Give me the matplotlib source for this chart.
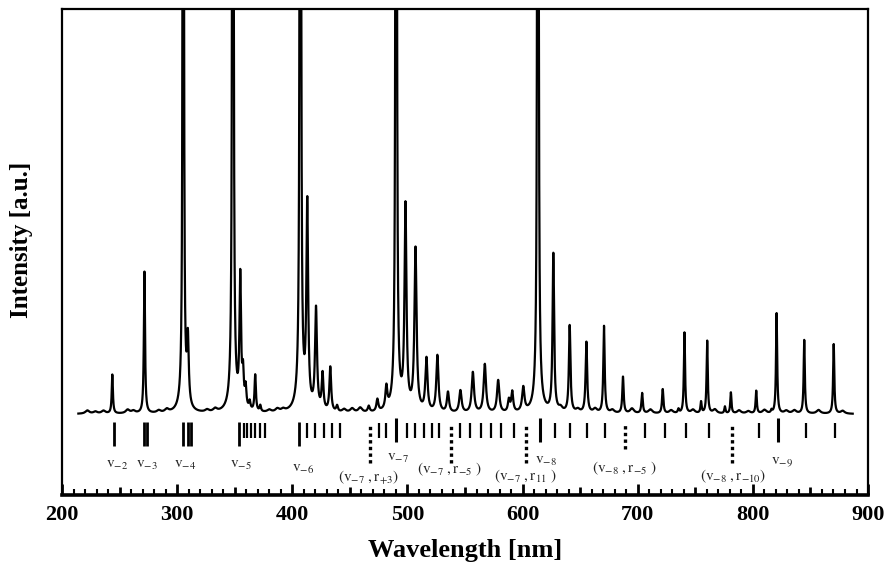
import numpy as np
import matplotlib.pyplot as plt
from matplotlib.ticker import MultipleLocator, FuncFormatter

plt.rcParams['mathtext.fontset'] = 'stix'
plt.rcParams['font.family'] = ['Liberation Serif', 'DejaVu Serif']

# spectrum peaks: centre [nm], height (baseline=0, frame top=1), half width [nm]
peak_nm = [243.7, 271.6, 305.3, 305.3, 309.3, 348.4, 348.4, 354.8, 357.2, 359.5, 363.0,
           367.8, 372.2, 407.0, 407.0, 413.0, 420.6, 426.3, 433.0, 438.9, 466.4, 473.9,
           481.7, 490.2, 490.2, 498.3, 507.0, 516.5, 526.0, 535.2, 546.0, 556.8, 567.2,
           578.8, 588.1, 591.0, 600.6, 613.3, 613.3, 626.7, 640.9, 655.4, 670.7, 687.2,
           703.8, 721.7, 735.4, 740.6, 755.0, 760.3, 775.7, 780.9, 802.9, 816.2, 820.6,
           844.6, 870.2]
peak_height = [0.096, 0.35, 12.0, 0.04, 0.16, 12.0, 0.05, 0.32, 0.08, 0.05, 0.02,
               0.09, 0.015, 12.0, 0.06, 0.5, 0.25, 0.09, 0.11, 0.015, 0.015, 0.03,
               0.055, 12.0, 0.05, 0.5, 0.4, 0.13, 0.14, 0.05, 0.055, 0.1, 0.12,
               0.08, 0.03, 0.05, 0.06, 12.0, 0.05, 0.39, 0.215, 0.175, 0.215, 0.09,
               0.05, 0.06, 0.01, 0.2, 0.028, 0.18, 0.017, 0.052, 0.056, 0.007, 0.248,
               0.182, 0.172]
peak_hw = [0.6, 0.6, 0.22, 3.0, 0.9, 0.25, 3.0, 0.8, 0.8, 0.8, 0.8,
           0.7, 0.7, 0.25, 3.0, 0.9, 1.0, 0.9, 0.9, 0.9, 1.0, 1.0,
           1.0, 0.25, 3.0, 1.0, 1.1, 1.1, 1.1, 1.1, 1.2, 1.2, 1.2,
           1.2, 1.0, 1.0, 1.2, 0.25, 3.0, 0.8, 0.8, 0.8, 0.7, 0.7,
           0.7, 0.7, 0.7, 0.6, 0.6, 0.6, 0.6, 0.6, 0.6, 0.6, 0.6,
           0.6, 0.6]

# small wiggles of the baseline
ripple_nm = [222, 229, 236, 257, 262, 284, 291, 326, 333, 380, 387, 392, 445, 452, 459,
             633, 648, 663, 678, 695, 711, 729, 748, 767, 788, 796, 810, 829, 836, 857, 878]
ripple_height = [0.008, 0.005, 0.007, 0.009, 0.006, 0.006, 0.008, 0.006, 0.008, 0.006,
                 0.008, 0.006, 0.008, 0.01, 0.012, 0.01, 0.008, 0.01, 0.008, 0.012,
                 0.01, 0.008, 0.009, 0.01, 0.008, 0.006, 0.009, 0.007, 0.008, 0.009, 0.007]

# assignment marks under the spectrum [nm]
bar_nm = [357.7, 360.6, 364.3, 367.8, 372.2, 376.5, 412.8, 420.0, 427.2, 434.5, 441.7,
          475.0, 481.5, 499.7, 507.0, 514.2, 521.5, 527.8, 546.0, 553.9, 563.5, 572.2,
          580.9, 592.4, 628.1, 640.9, 656.3, 671.6, 706.3, 723.7, 741.7, 762.0, 805.0,
          846.1, 871.6]
head_nm = [245.2, 271.6, 273.7, 305.5, 309.8, 312.2, 353.3, 406.1]
head_hi_nm = [490.4, 614.8, 822.0]
dot_nm = [467.8, 537.4, 602.6, 782.3]
dot_short_nm = [689.0]

labels = [r'$\mathrm{v}_{-2}$', r'$\mathrm{v}_{-3}$', r'$\mathrm{v}_{-4}$', r'$\mathrm{v}_{-5}$',
          r'$\mathrm{v}_{-6}$', r'$(\mathrm{v}_{-7}\ ,\mathrm{r}_{+3})$', r'$\mathrm{v}_{-7}$',
          r'$(\mathrm{v}_{-7}\ ,\mathrm{r}_{-5}\ )$', r'$(\mathrm{v}_{-7}\ ,\mathrm{r}_{11}\ )$',
          r'$\mathrm{v}_{-8}$', r'$(\mathrm{v}_{-8}\ ,\mathrm{r}_{-5}\ )$',
          r'$(\mathrm{v}_{-8}\ ,\mathrm{r}_{-10})$', r'$\mathrm{v}_{-9}$']
label_nm = [247.8, 273.9, 307.2, 355.2, 409.8, 466.1, 492.2, 536.5, 602.6, 620.0, 688.7,
            782.6, 825.2]
label_y = [-0.128, -0.128, -0.128, -0.128, -0.138, -0.156, -0.109, -0.136, -0.153,
           -0.116, -0.133, -0.153, -0.119]

wl = np.linspace(214.2, 886.7, 8000)
inten = np.zeros_like(wl)
for c, h, g in zip(peak_nm, peak_height, peak_hw):
    inten += h * g**2 / ((wl - c)**2 + g**2)
for c, h in zip(ripple_nm, ripple_height):
    inten += h * 2.0**2 / ((wl - c)**2 + 2.0**2)

fig = plt.figure(figsize=(8.87, 5.68), dpi=100)
ax = fig.add_axes([0.0699, 0.1285, 0.9087, 0.8557])

ax.plot(wl, inten, color='k', lw=1.6)

ax.vlines(bar_nm, -0.059, -0.021, color='k', lw=1.6)
ax.vlines(head_nm, -0.079, -0.019, color='k', lw=2.0)
ax.vlines(head_hi_nm, -0.068, -0.010, color='k', lw=2.2)
ax.vlines(dot_nm, -0.121, -0.021, color='k', lw=2.4, linestyles=(0, (1, 1)))
ax.vlines(dot_short_nm, -0.086, -0.021, color='k', lw=2.4, linestyles=(0, (1, 1)))

for s, x, y in zip(labels, label_nm, label_y):
    ax.text(x, y, s, ha='center', va='center', fontsize=11, color='#222222')

ax.set_xlim(200, 900)
ax.set_ylim(-0.2, 1.0)
ax.set_yticks([])
ax.xaxis.set_major_locator(MultipleLocator(50))
ax.xaxis.set_minor_locator(MultipleLocator(10))
ax.xaxis.set_major_formatter(FuncFormatter(lambda v, p: '%d' % v if v % 100 == 0 else ''))
ax.tick_params(axis='x', which='major', direction='in', length=8, width=2, pad=7,
               labelsize=16)
ax.tick_params(axis='x', which='minor', direction='in', length=4, width=1.5)
for lab in ax.get_xticklabels():
    lab.set_fontweight('bold')
# shorter ticks at the 50s
for t, loc in zip(ax.xaxis.get_major_ticks(), ax.xaxis.get_majorticklocs()):
    if loc % 100:
        t.tick1line.set_markersize(6)

for side in ['top', 'left', 'right']:
    ax.spines[side].set_linewidth(1.6)
ax.spines['bottom'].set_linewidth(2.6)

ax.set_xlabel('Wavelength [nm]', fontsize=19, fontweight='bold')
ax.xaxis.set_label_coords(0.5, -0.09)
ax.set_ylabel('Intensity [a.u.]', fontsize=18, fontweight='bold')
ax.yaxis.set_label_coords(-0.036, 0.525)

fig.savefig('out.png', dpi=100)
